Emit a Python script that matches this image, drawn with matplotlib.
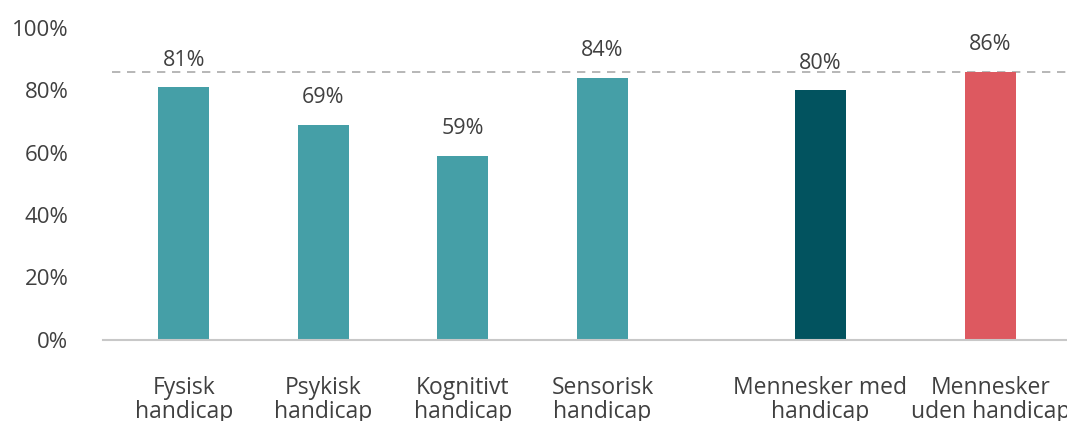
import numpy as np
import matplotlib.pyplot as plt

categories = ["Fysisk\nhandicap", "Psykisk\nhandicap", "Kognitivt\nhandicap",
              "Sensorisk\nhandicap", "Mennesker med\nhandicap", "Mennesker\nuden handicap"]
values = [81, 69, 59, 84, 80, 86]
colors = ["#459FA7", "#459FA7", "#459FA7", "#459FA7", "#02535F", "#DD5960"]
yticks = [0, 20, 40, 60, 80, 100]
ref_line = 86

plt.rcParams["font.family"] = ["Open Sans", "DejaVu Sans"]
txt = "#404040"

fig = plt.figure(figsize=(10.67, 4.21), dpi=100)
ax = fig.add_axes([103 / 1067, 0.1931, 1 - 103 / 1067, 0.7404])

xpos = np.array([0, 1, 2, 3, 4.56, 5.78])
ax.bar(xpos, values, width=0.366, color=colors, zorder=2)
ax.axhline(ref_line, xmin=(112 - 103) / 964, color="#aaaaaa", lw=1.2,
           dashes=(5, 4), zorder=1)

for x, v in zip(xpos, values):
    ax.annotate(f"{v}%", (x, v), xytext=(0, 12), textcoords="offset points",
                ha="center", va="bottom", fontsize=15.5, color=txt)

ax.set_xlim(-0.58, 6.33)
ax.set_ylim(0, 100)
ax.set_yticks(yticks)
ax.set_yticklabels([f"{t}%" for t in yticks], fontsize=16, color=txt)
ax.set_xticks(xpos)
ax.set_xticklabels(categories, fontsize=16.5, color=txt, linespacing=1.0)
ax.tick_params(axis="x", length=0, pad=26)
ax.tick_params(axis="y", length=0, pad=25)

for s in ["top", "right", "left"]:
    ax.spines[s].set_visible(False)
ax.spines["bottom"].set_color("#c8c8c8")
ax.spines["bottom"].set_linewidth(1.5)

fig.savefig("out.png", dpi=100)
